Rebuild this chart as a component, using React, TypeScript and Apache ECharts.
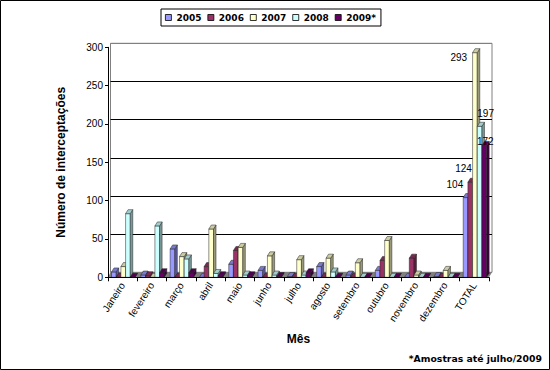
import React, { useEffect, useRef } from "react";
import * as echarts from "echarts";

const categories = ["Janeiro", "fevereiro", "março", "abril", "maio", "junho", "julho", "agosto", "setembro", "outubro", "novembro", "dezembro", "TOTAL"];
const seriesNames = ["2005", "2006", "2007", "2008", "2009*"];
const values2005 = [7, 3, 37, 0, 17, 9, 1, 14, 3, 9, 0, 1, 104];
const values2006 = [0, 2, 0, 14, 35, 0, 0, 0, 0, 22, 25, 0, 124];
const values2007 = [14, 0, 27, 63, 39, 28, 23, 25, 19, 48, 3, 9, 293];
const values2008 = [83, 67, 24, 5, 3, 3, 3, 7, 0, 0, 0, 0, 197];
const values2009 = [0, 6, 6, 2, 2, 1, 6, 0, 0, 0, 0, 0, 172];
const allValues = [values2005, values2006, values2007, values2008, values2009];
const labelledCategory = "TOTAL";

const COLORS = ["#9999FF", "#993366", "#FFFFCC", "#CCFFFF", "#660066"];
// label placement relative to bar front top-left corner
const LABEL_POS = [
  { dx: 0, dy: -13, align: "right" },
  { dx: 4, dy: -14, align: "right" },
  { dx: -5.5, dy: 5, align: "right" },
  { dx: 0, dy: -13, align: "left" },
  { dx: -5, dy: -4, align: "left" },
];

function shade(hex: string, f: number) {
  const n = parseInt(hex.slice(1), 16);
  const r = Math.round(((n >> 16) & 255) * f);
  const g = Math.round(((n >> 8) & 255) * f);
  const b = Math.round((n & 255) * f);
  return `rgb(${r},${g},${b})`;
}

const OFFSET = 0.12;
const STEP = 0.16;
const DX = 2.5;
const DY = 4;

function makeRender(si: number) {
  return (params: any, api: any) => {
    const idx = api.value(0);
    const val = api.value(1);
    const base = api.coord([idx, 0]);
    const top = api.coord([idx, val]);
    const bw = api.size([1, 0])[0];
    const w = bw * STEP;
    const x0 = base[0] - bw / 2 + bw * OFFSET + si * w;
    const yT = top[1];
    const yB = base[1];
    const c = COLORS[si];
    const stroke = "#222";
    const lw = 0.5;
    const children: any[] = [
      {
        type: "rect",
        shape: { x: x0, y: yT, width: w, height: yB - yT },
        style: { fill: c, stroke, lineWidth: lw },
      },
      {
        type: "polygon",
        shape: { points: [[x0 + w, yT], [x0 + w + DX, yT - DY], [x0 + w + DX, yB - DY], [x0 + w, yB]] },
        style: { fill: shade(c, 0.6), stroke, lineWidth: lw },
      },
      {
        type: "polygon",
        shape: { points: [[x0, yT], [x0 + DX, yT - DY], [x0 + w + DX, yT - DY], [x0 + w, yT]] },
        style: { fill: shade(c, 0.8), stroke, lineWidth: lw },
      },
    ];
    if (categories[idx] === labelledCategory) {
      const lp = LABEL_POS[si];
      children.push({
        type: "text",
        x: x0 + lp.dx,
        y: yT + lp.dy,
        style: {
          text: String(val),
          fill: "#000",
          fontSize: 10,
          fontFamily: "Liberation Sans",
          align: lp.align,
          verticalAlign: "middle",
          textAlign: lp.align,
          textVerticalAlign: "middle",
        },
        z2: 10,
      });
    }
    return { type: "group", children };
  };
}

const axisFont = { fontFamily: "Liberation Sans", fontSize: 10, color: "#000" };

const option: any = {
  animation: false,
  backgroundColor: "#fff",
  legend: {
    data: seriesNames,
    left: 161,
    top: 9,
    orient: "horizontal",
    icon: "rect",
    itemWidth: 6,
    itemHeight: 6,
    itemGap: 6,
    padding: [4, 5, 4, 4],
    borderColor: "#000",
    borderWidth: 1,
    itemStyle: { borderColor: "#000", borderWidth: 0.8 },
    textStyle: { fontFamily: "DejaVu Sans", fontWeight: "bold", fontSize: 9, color: "#000" },
  },
  grid: [
    { left: 110.5, right: 58, top: 43.3, bottom: 97.7, show: true, borderColor: "#808080", borderWidth: 1, backgroundColor: "transparent" },
    { left: 108, right: 61, top: 47.3, bottom: 92.7 },
  ],
  xAxis: [
    { type: "category", gridIndex: 0, data: categories, show: false },
    {
      type: "category",
      gridIndex: 1,
      data: categories,
      z: 3,
      axisLine: { lineStyle: { color: "#000", width: 1 } },
      axisTick: { show: true, length: 4, lineStyle: { color: "#000" } },
      axisLabel: { ...axisFont, rotate: 57, interval: 0, margin: 6 },
      name: "Mês",
      nameLocation: "middle",
      nameGap: 56,
      nameTextStyle: { fontFamily: "Liberation Sans", fontSize: 12, fontWeight: "bold", color: "#000" },
    },
  ],
  yAxis: [
    {
      type: "value",
      gridIndex: 0,
      min: 0,
      max: 300,
      interval: 50,
      axisLine: { show: false },
      axisTick: { show: false },
      axisLabel: { show: false },
      splitLine: { show: true, lineStyle: { color: ["#808080", "#000", "#000", "#000", "#000", "#000", "#808080"], width: 1 } },
    },
    {
      type: "value",
      gridIndex: 1,
      min: 0,
      max: 300,
      interval: 50,
      z: 3,
      axisLine: { show: true, lineStyle: { color: "#000", width: 1 } },
      axisTick: { show: true, length: 3, lineStyle: { color: "#000" } },
      axisLabel: { ...axisFont, margin: 5 },
      splitLine: { show: false },
      name: "Número de interceptações",
      nameLocation: "middle",
      nameGap: 41,
      nameTextStyle: { fontFamily: "Liberation Sans", fontSize: 12, fontWeight: "bold", color: "#000" },
    },
  ],
  graphic: [
    {
      type: "polygon",
      z: 1,
      silent: true,
      shape: { points: [[108, 277.3], [489, 277.3], [492, 272.3], [110.5, 272.3]] },
      style: { fill: "#808080" },
    },
    {
      type: "text",
      z: 5,
      x: 542,
      y: 358.5,
      style: {
        text: "*Amostras até julho/2009",
        fill: "#000",
        fontFamily: "DejaVu Sans",
        fontWeight: "bold",
        fontSize: 9.3,
        align: "right",
        verticalAlign: "middle",
        textAlign: "right",
        textVerticalAlign: "middle",
      },
    },
    {
      type: "rect",
      z: 100,
      silent: true,
      shape: { x: 0.5, y: 0.5, width: 549, height: 369 },
      style: { fill: "none", stroke: "#000", lineWidth: 1 },
    },
  ],
  series: seriesNames.map((name, si) => ({
    type: "custom",
    name,
    xAxisIndex: 1,
    yAxisIndex: 1,
    itemStyle: { color: COLORS[si] },
    data: allValues[si].map((v, i) => [i, v]),
    encode: { x: 0, y: 1 },
    renderItem: makeRender(si),
    z: 2,
  })),
};

export default function App() {
  const ref = useRef<HTMLDivElement>(null);
  useEffect(() => {
    const chart = echarts.init(ref.current!, null, { renderer: "svg" });
    chart.setOption(option);
    return () => chart.dispose();
  }, []);
  return (
    <div
      ref={ref}
      style={{ position: "absolute", left: 0, top: 0, width: 550, height: 370, background: "#fff" }}
    />
  );
}
